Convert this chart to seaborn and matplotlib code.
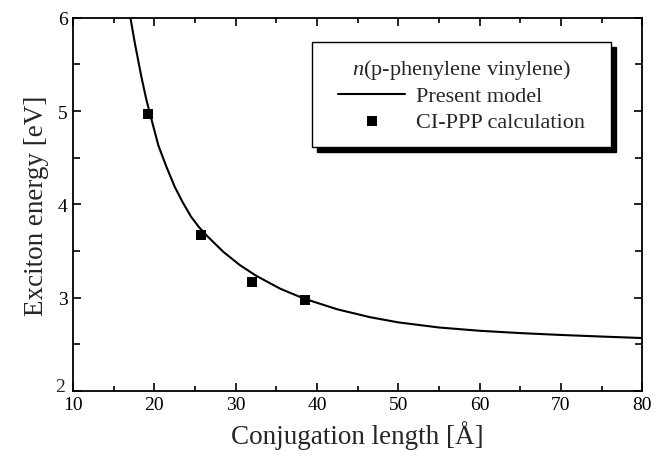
import matplotlib
matplotlib.use("Agg")
import matplotlib.pyplot as plt
import seaborn as sns
import pandas as pd
from matplotlib.patches import Rectangle
from matplotlib.ticker import MultipleLocator, FuncFormatter

# model curve
curve_x = [17.06, 17.6, 18.4, 19.0, 19.5, 20.5, 21.5, 22.5, 23.5, 24.5, 25.5,
           26.5, 28.5, 30.5, 32.5, 35.5, 38.5, 42.5, 46.5, 50.0, 55.0, 60.0,
           65.0, 70.0, 75.0, 80.0]
curve_y = [6.00, 5.73, 5.37, 5.13, 4.96, 4.63, 4.40, 4.19, 4.02, 3.87, 3.755,
           3.66, 3.49, 3.35, 3.236, 3.095, 2.987, 2.875, 2.791, 2.735, 2.68,
           2.645, 2.62, 2.60, 2.583, 2.567]

# CI-PPP points
calc_x = [19.27, 25.7, 32.06, 38.5]
calc_y = [4.97, 3.67, 3.17, 2.98]

sns.set_style("ticks")
plt.rcParams["font.family"] = ["Liberation Serif", "DejaVu Serif"]
plt.rcParams["mathtext.fontset"] = "custom"
plt.rcParams["mathtext.rm"] = "Liberation Serif"
plt.rcParams["mathtext.it"] = "Liberation Serif:italic"

curve = pd.DataFrame({"x": curve_x, "y": curve_y})
calc = pd.DataFrame({"x": calc_x, "y": calc_y})

fig = plt.figure(figsize=(6.55, 4.6), dpi=100)
ax = fig.add_axes([0.1115, 0.148, 0.869, 0.811])

sns.lineplot(data=curve, x="x", y="y", ax=ax, color="black", linewidth=1.5,
             sort=False, label="Present model")
sns.scatterplot(data=calc, x="x", y="y", ax=ax, color="black", marker="s",
                s=50, linewidth=0, label="CI-PPP calculation", zorder=3)

ax.set_xlim(10, 80)
ax.set_ylim(2, 6)
ax.xaxis.set_major_locator(MultipleLocator(10))
ax.xaxis.set_minor_locator(MultipleLocator(5))
ax.yaxis.set_major_locator(MultipleLocator(1))
ax.yaxis.set_minor_locator(MultipleLocator(0.5))
# the bottom "2" is drawn separately, nudged clear of the "10"
ax.yaxis.set_major_formatter(FuncFormatter(
    lambda v, p: "" if abs(v - 2) < 1e-9 else f"{v:g}"))
ax.tick_params(which="both", direction="in", top=True, right=True,
               width=1.2, labelsize=14, colors="black", pad=4)
ax.tick_params(which="major", length=6)
ax.tick_params(axis="x", which="minor", length=3.5)
ax.tick_params(axis="y", which="minor", length=5)
for sp in ax.spines.values():
    sp.set_linewidth(1.3)
    sp.set_color("black")
ax.annotate("2", xy=(0, 0), xycoords="axes fraction", xytext=(-6, 3),
            textcoords="offset points", ha="right", va="center", fontsize=14)

ax.set_xlabel("Conjugation length [Å]", fontsize=19.5, labelpad=5)
ax.set_ylabel("Exciton energy [eV]", fontsize=19.5, labelpad=6)

# legend box with a solid drop shadow
bx0, by0, bw, bh = 0.420, 0.654, 0.5255, 0.2817
ax.add_patch(Rectangle((bx0 + 0.0088, by0 - 0.0134), bw, bh,
                       transform=ax.transAxes, facecolor="black",
                       edgecolor="black", zorder=5, clip_on=False))
ax.add_patch(Rectangle((bx0, by0), bw, bh, transform=ax.transAxes,
                       facecolor="white", edgecolor="black", linewidth=1.0,
                       zorder=6, clip_on=False))

leg = ax.legend(title=r"$\it{n}$(p-phenylene vinylene)", loc="center",
                bbox_to_anchor=(bx0 + bw / 2, by0 + bh / 2), fontsize=16,
                title_fontsize=16, frameon=False, handlelength=3,
                borderpad=0.2, labelspacing=0.22, handletextpad=0.5)
leg.set_zorder(7)

fig.savefig("out.png", dpi=100)
